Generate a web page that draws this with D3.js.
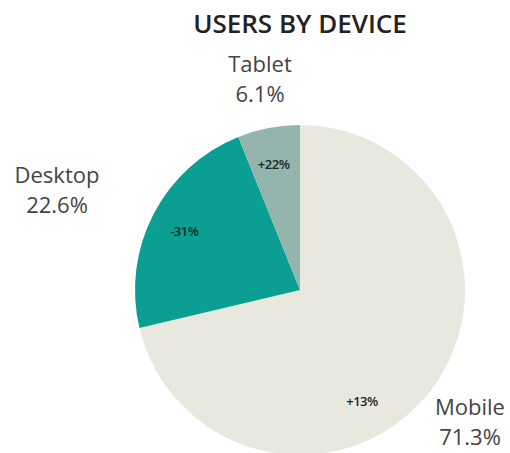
<!DOCTYPE html>
<html>
<head>
<meta charset="utf-8">
<script src="https://cdn.jsdelivr.net/npm/d3@7"></script>
<style>
  body { margin: 0; background: #fff; }
  text { font-family: "Open Sans", sans-serif; }
</style>
</head>
<body>
<script>
var devices = ["Mobile", "Desktop", "Tablet"];
var shares = [71.3, 22.6, 6.1];
var changes = ["+13%", "-31%", "+22%"];
var colors = ["#e9e8df", "#0b9e92", "#94b4ae"];

var width = 510, height = 453;
var cx = 300, cy = 290, radius = 165;

var svg = d3.select("body")
  .append("svg")
  .attr("width", width)
  .attr("height", height);

svg.append("text")
  .attr("x", 300)
  .attr("y", 33)
  .attr("text-anchor", "middle")
  .style("font-size", "26px")
  .style("font-weight", 600)
  .style("fill", "#222")
  .text("USERS BY DEVICE");

var data = devices.map(function (d, i) {
  return { name: d, value: shares[i], change: changes[i], color: colors[i] };
});

var pie = d3.pie()
  .sort(null)
  .value(function (d) { return d.value; });

var arc = d3.arc()
  .innerRadius(0)
  .outerRadius(radius);

var slices = pie(data);

var g = svg.append("g")
  .attr("transform", "translate(" + cx + "," + cy + ")");

g.selectAll("path")
  .data(slices)
  .enter()
  .append("path")
  .attr("d", arc)
  .style("fill", function (d) { return d.data.color; });

// change labels inside slices; mobile label sits lower than the centroid
var innerArc = d3.arc().innerRadius(128).outerRadius(128);
g.selectAll("text.change")
  .data(slices)
  .enter()
  .append("text")
  .attr("class", "change")
  .attr("transform", function (d) {
    var a = d;
    if (d.data.name === "Mobile") {
      var mid = Math.PI * 150 / 180;
      a = { startAngle: mid, endAngle: mid };
    }
    var p = innerArc.centroid(a);
    return "translate(" + (p[0] - 2) + "," + (p[1] + 5) + ")";
  })
  .attr("text-anchor", "middle")
  .style("font-size", "13px")
  .style("font-weight", 600)
  .style("letter-spacing", "-0.5px")
  .style("fill", "#1a2725")
  .text(function (d) { return d.data.change; });

// outer name + share labels
var outerPos = {
  Tablet: [260, 72],
  Desktop: [57, 183],
  Mobile: [470, 415]
};
var outer = svg.selectAll("g.outer")
  .data(slices)
  .enter()
  .append("g")
  .attr("class", "outer")
  .attr("transform", function (d) {
    var p = outerPos[d.data.name];
    return "translate(" + p[0] + "," + p[1] + ")";
  });

outer.append("text")
  .attr("text-anchor", "middle")
  .style("font-size", "22px")
  .style("fill", "#444")
  .text(function (d) { return d.data.name; });

outer.append("text")
  .attr("text-anchor", "middle")
  .attr("y", 30)
  .style("font-size", "22px")
  .style("fill", "#444")
  .text(function (d) { return d.data.value.toFixed(1) + "%"; });
</script>
</body>
</html>
